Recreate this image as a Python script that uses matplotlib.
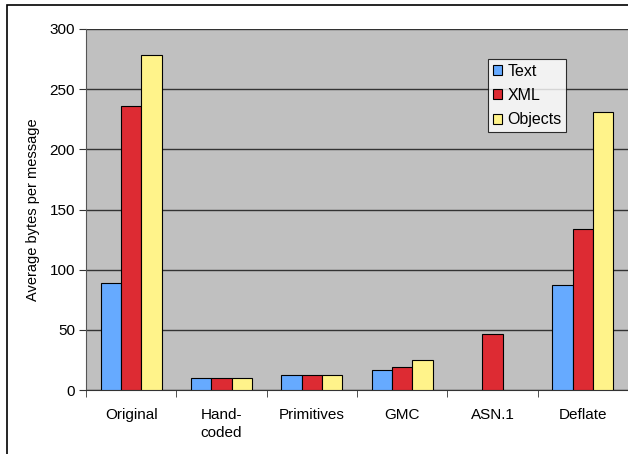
import numpy as np
import matplotlib.pyplot as plt
from matplotlib.patches import Rectangle

plt.rcParams['font.family'] = ['Liberation Sans', 'DejaVu Sans']

categories = ['Original', 'Hand-\ncoded', 'Primitives', 'GMC', 'ASN.1', 'Deflate']
# nan = no bar for that encoding
text_vals = [89, 10, 12.5, 17, np.nan, 87]
xml_vals = [236, 10, 12.5, 19.5, 46.5, 134]
obj_vals = [278, 10, 12.5, 25, np.nan, 231]
series = ['Text', 'XML', 'Objects']
colors = ['#66aaff', '#dd2b33', '#fff38a']

fig = plt.figure(figsize=(6.28, 4.54), dpi=100)
# outer chart frame
fig.patches.append(Rectangle((7/628, -0.1), 1.2, 1 - 5/454 + 0.1, transform=fig.transFigure,
                             fill=False, edgecolor='black', linewidth=1.2))
ax = fig.add_axes((86/628, 64/454, 542/628, 361/454))
ax.set_facecolor('#c0c0c0')

x = np.arange(len(categories))
w = 0.225
for i, (vals, name, c) in enumerate(zip([text_vals, xml_vals, obj_vals], series, colors)):
    ax.bar(x + (i - 1) * w, vals, w, color=c, edgecolor='black', linewidth=0.8,
           label=name, zorder=3)

ax.set_xlim(-0.5, len(categories) - 0.5)
ax.set_ylim(0, 300)
ax.set_yticks(range(0, 301, 50))
ax.yaxis.grid(True, color='#333333', linewidth=1)
ax.set_axisbelow(True)

ax.set_xticks(x)
ax.set_xticklabels(categories, fontsize=11, linespacing=1.35)
ax.set_xticks(np.arange(-0.5, len(categories), 1), minor=True)
ax.tick_params(axis='x', which='major', length=0, pad=13)
ax.tick_params(axis='x', which='minor', length=5, color='#333333')
ax.tick_params(axis='y', labelsize=11, length=5, color='#333333', pad=3)

for s in ['top', 'right']:
    ax.spines[s].set_visible(False)
ax.spines['left'].set_color('#555555')
ax.spines['bottom'].set_color('#333333')

ax.set_ylabel('Average bytes per message', fontsize=10.5, labelpad=7)

leg = ax.legend(loc='upper left', bbox_to_anchor=((488 - 86) / 542, (390 - 59) / 361),
                fontsize=11.5, frameon=True, fancybox=False, edgecolor='black',
                handlelength=0.6, handleheight=0.6, handletextpad=0.3,
                borderpad=0.3, labelspacing=0.58, borderaxespad=0)
leg.get_frame().set_linewidth(0.8)

fig.savefig('out.png', dpi=100)
